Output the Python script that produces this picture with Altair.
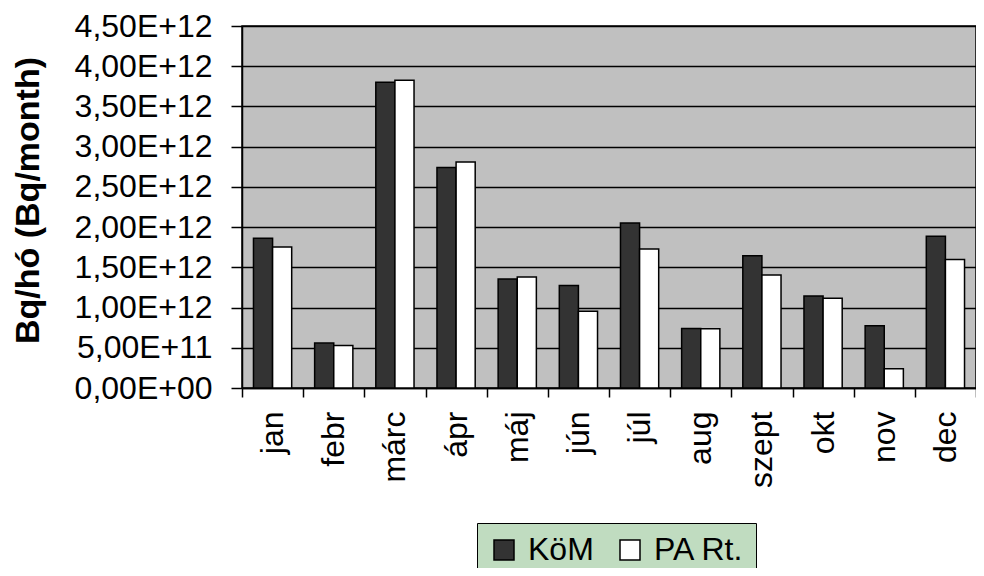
import altair as alt
import pandas as pd

months = ["jan", "febr", "márc", "ápr", "máj", "jún", "júl", "aug", "szept", "okt", "nov", "dec"]
kom = [1.86e12, 0.558e12, 3.80e12, 2.74e12, 1.356e12, 1.273e12,
       2.05e12, 0.739e12, 1.645e12, 1.145e12, 0.773e12, 1.886e12]
pa = [1.753e12, 0.529e12, 3.825e12, 2.81e12, 1.381e12, 0.955e12,
      1.728e12, 0.737e12, 1.405e12, 1.117e12, 0.239e12, 1.596e12]
series = ["KöM", "PA Rt."]
colors = ["#333333", "#ffffff"]
y_ticks = [0, 0.5e12, 1.0e12, 1.5e12, 2.0e12, 2.5e12, 3.0e12, 3.5e12, 4.0e12, 4.5e12]

df = pd.DataFrame({
    "month": months * 2,
    "value": kom + pa,
    "series": [series[0]] * len(months) + [series[1]] * len(months),
})

font = "Liberation Sans"
exp_expr = "floor(log(datum.value)/LN10 + 1e-9)"
label_expr = (
    "datum.value == 0 ? '0,00E+00' : "
    f"replace(format(datum.value / pow(10, {exp_expr}), '.2f'), '.', ',') + 'E+' + format({exp_expr}, '02d')"
)

chart = alt.Chart(df).mark_bar(stroke="black", strokeWidth=1.5).encode(
    x=alt.X(
        "month:N", sort=months,
        scale=alt.Scale(paddingInner=0, paddingOuter=0),
        axis=alt.Axis(
            title=None, labelAngle=270, labelAlign="right", labelBaseline="middle",
            labelFontSize=32, labelFont=font, labelColor="black", labelPadding=14,
            tickBand="extent", tickSize=9, tickColor="black", tickWidth=1.5,
            domainColor="black", domainWidth=1.5, grid=False,
        ),
    ),
    xOffset=alt.XOffset("series:N", sort=series,
                        scale=alt.Scale(paddingOuter=0.6, paddingInner=0)),
    y=alt.Y(
        "value:Q",
        scale=alt.Scale(domain=[0, 4.5e12], nice=False),
        axis=alt.Axis(
            values=y_ticks, labelExpr=label_expr,
            labelFontSize=32, labelFont=font, labelColor="black", labelPadding=19,
            tickSize=11, tickColor="black", tickWidth=1.5,
            domainColor="black", domainWidth=1.5,
            grid=True, gridColor="black", gridWidth=1.5,
            title="Bq/hó (Bq/month)", titleFont=font, titleFontSize=34,
            titleFontWeight="bold", titleColor="black",
            titleX=-214, titleY=174, titleAngle=270,
            titleAlign="center", titleBaseline="middle",
        ),
    ),
    color=alt.Color(
        "series:N", sort=series,
        scale=alt.Scale(domain=series, range=colors),
        legend=alt.Legend(
            title=None, orient="none", legendX=235, legendY=497,
            direction="horizontal", fillColor="#c0dcc0", strokeColor="black",
            padding=11, symbolType="square", symbolSize=400,
            symbolStrokeColor="black", symbolStrokeWidth=1.5, symbolOpacity=1,
            labelFontSize=32, labelFont=font, labelColor="black",
            labelOffset=8, columnPadding=20,
        ),
    ),
).properties(
    width=734, height=362,
    padding={"left": 234, "top": 18, "right": 0, "bottom": 180},
    autosize=alt.AutoSizeParams(type="none"),
).configure_view(fill="#c0c0c0", stroke="black", strokeWidth=1.5)

chart.save("out.html", embed_options={"renderer": "svg", "actions": False})
